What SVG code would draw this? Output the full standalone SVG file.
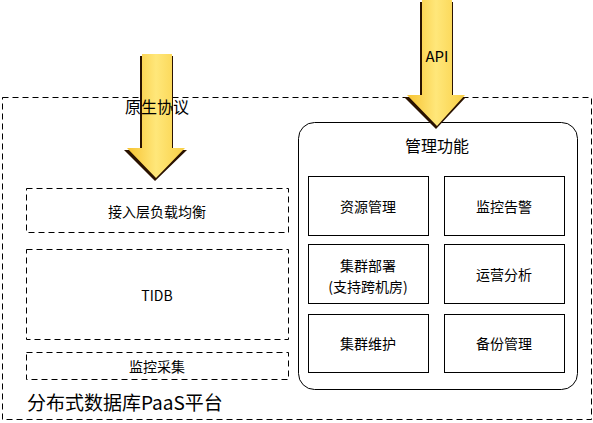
<svg xmlns="http://www.w3.org/2000/svg" width="593" height="423" viewBox="0 0 593 423">
<defs>
<linearGradient id="yg" x1="0" y1="0" x2="1" y2="0">
<stop offset="0" stop-color="#F7C331"/>
<stop offset="0.5" stop-color="#FFE77A"/>
<stop offset="1" stop-color="#F9CF45"/>
</linearGradient>
</defs>
<style>
.dash{fill:none;stroke:#000;stroke-width:1;stroke-dasharray:6 4}
.box{fill:#fff;stroke:#000;stroke-width:1}
.t{font-family:"Noto Sans CJK SC","Liberation Sans",sans-serif;font-size:14px;fill:#000;text-anchor:middle;dominant-baseline:central}
.shadow{fill:#2a1200}
.arrow{fill:url(#yg)}
</style>
<rect width="593" height="423" fill="#fff"/>
<g id="platform">
<rect class="dash" x="2.5" y="97.5" width="589" height="322"/>
<text class="t" x="27" y="401" style="text-anchor:start;font-size:19px">分布式数据库PaaS平台</text>
</g>
<g id="access-lb">
<rect class="dash" x="26.5" y="188.5" width="262" height="44"/>
<text class="t" x="157" y="211">接入层负载均衡</text>
</g>
<g id="tidb">
<rect class="dash" x="26.5" y="249.5" width="262" height="90"/>
<text class="t" x="157" y="295">TIDB</text>
</g>
<g id="monitor-collect">
<rect class="dash" x="26.5" y="352.5" width="262" height="27"/>
<text class="t" x="157" y="366">监控采集</text>
</g>
<g id="mgmt">
<rect class="box" x="298.5" y="122.5" width="279" height="267" rx="16"/>
<text class="t" x="437" y="145" style="font-size:16px">管理功能</text>
</g>
<g id="res-mgmt"><rect class="box" x="308.5" y="176.5" width="120" height="59"/><text class="t" x="368" y="206">资源管理</text></g>
<g id="alert"><rect class="box" x="444.5" y="176.5" width="120" height="59"/><text class="t" x="504" y="206">监控告警</text></g>
<g id="deploy"><rect class="box" x="308.5" y="244.5" width="120" height="59"/><text class="t" x="368" y="265">集群部署</text><text class="t" x="368" y="286">(支持跨机房)</text></g>
<g id="ops"><rect class="box" x="444.5" y="244.5" width="120" height="59"/><text class="t" x="504" y="274">运营分析</text></g>
<g id="maint"><rect class="box" x="308.5" y="314.5" width="120" height="58"/><text class="t" x="368" y="343">集群维护</text></g>
<g id="backup"><rect class="box" x="444.5" y="314.5" width="120" height="58"/><text class="t" x="504" y="343">备份管理</text></g>
<g id="connectors">
<g id="arrow-native">
<polygon class="shadow" points="140,56 173,56 173,150 187,150 155,181 124,150 140,150"/>
<polygon class="arrow" points="142,54 172,54 172,148 185,148 156,178 127,148 142,148"/>
</g>
<g id="arrow-api">
<polygon class="shadow" points="420,2 453,2 453,97 466,97 436,129 404,97 420,97"/>
<polygon class="arrow" points="422,0 452,0 452,95 465,95 437,126 407,95 422,95"/>
</g>
<text class="t" x="157" y="106" style="font-size:16px">原生协议</text>
<text class="t" x="437" y="55" style="font-size:15px">API</text>
</g>
</svg>
